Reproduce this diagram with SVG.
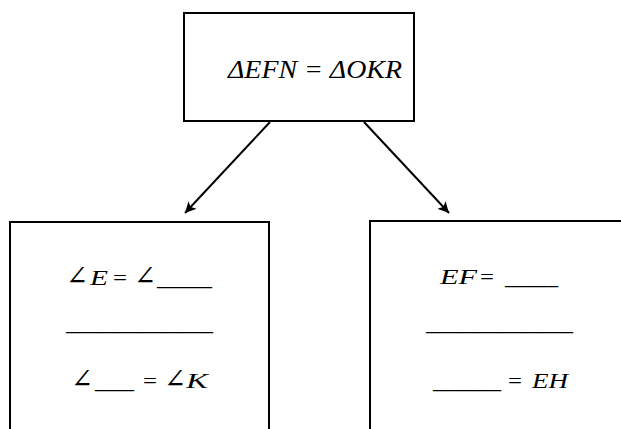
<svg xmlns="http://www.w3.org/2000/svg" width="621" height="429" viewBox="0 0 621 429">
  <defs>
    <marker id="arrow" viewBox="0 0 10 10" refX="10" refY="5" markerWidth="11" markerHeight="11" markerUnits="userSpaceOnUse" orient="auto">
      <path d="M0,0 L10,5 L0,10 L2.5,5 Z" fill="#000"/>
    </marker>
  </defs>
  <style>
    .box { fill: #fff; stroke: #000; stroke-width: 2; }
    .edge { stroke: #000; stroke-width: 2; fill: none; }
    .t { font-family: "Liberation Serif", "DejaVu Serif", serif; font-style: italic; font-size: 20px; fill: #000; }
    .head { font-size: 26px; }
    .n { font-style: normal; }
    .ang { font-style: normal; font-size: 27px; }
  </style>
  <rect width="621" height="429" fill="#fff"/>

  <g id="connectors">
    <line class="edge" x1="270" y1="122" x2="185" y2="213" marker-end="url(#arrow)"/>
    <line class="edge" x1="364" y1="122" x2="449" y2="213" marker-end="url(#arrow)"/>
  </g>

  <g id="top">
    <rect class="box" x="184" y="13" width="230" height="108"/>
    <text class="t head" x="228" y="78" textLength="174" lengthAdjust="spacingAndGlyphs">ΔEFN = ΔOKR</text>
  </g>

  <g id="angles">
    <rect class="box" x="10" y="222" width="259" height="220"/>
    <text class="t" y="285">
      <tspan class="ang" x="66" textLength="22" lengthAdjust="spacingAndGlyphs">∠</tspan>
      <tspan x="90" textLength="18" lengthAdjust="spacingAndGlyphs">E</tspan>
      <tspan class="n" x="113" textLength="14" lengthAdjust="spacingAndGlyphs">=</tspan>
      <tspan class="ang" x="134" textLength="22" lengthAdjust="spacingAndGlyphs">∠</tspan>
      <tspan class="n" x="157" textLength="55" lengthAdjust="spacingAndGlyphs">_____</tspan>
    </text>
    <text class="t n" x="66" y="330" textLength="147" lengthAdjust="spacingAndGlyphs">______________</text>
    <text class="t" y="388">
      <tspan class="ang" x="71" textLength="22" lengthAdjust="spacingAndGlyphs">∠</tspan>
      <tspan class="n" x="95" textLength="39" lengthAdjust="spacingAndGlyphs">____</tspan>
      <tspan class="n" x="143" textLength="14" lengthAdjust="spacingAndGlyphs">=</tspan>
      <tspan class="ang" x="164" textLength="22" lengthAdjust="spacingAndGlyphs">∠</tspan>
      <tspan x="186" textLength="22" lengthAdjust="spacingAndGlyphs">K</tspan>
    </text>
  </g>

  <g id="sides">
    <rect class="box" x="370" y="221" width="262" height="220"/>
    <text class="t" y="284">
      <tspan x="440" textLength="37" lengthAdjust="spacingAndGlyphs">EF</tspan>
      <tspan class="n" x="480" textLength="14" lengthAdjust="spacingAndGlyphs">=</tspan>
      <tspan class="n" x="505" textLength="53" lengthAdjust="spacingAndGlyphs">_____</tspan>
    </text>
    <text class="t n" x="426" y="330" textLength="147" lengthAdjust="spacingAndGlyphs">______________</text>
    <text class="t" y="388">
      <tspan class="n" x="433" textLength="68" lengthAdjust="spacingAndGlyphs">______</tspan>
      <tspan class="n" x="508" textLength="14" lengthAdjust="spacingAndGlyphs">=</tspan>
      <tspan x="532" textLength="36" lengthAdjust="spacingAndGlyphs">EH</tspan>
    </text>
  </g>
</svg>
